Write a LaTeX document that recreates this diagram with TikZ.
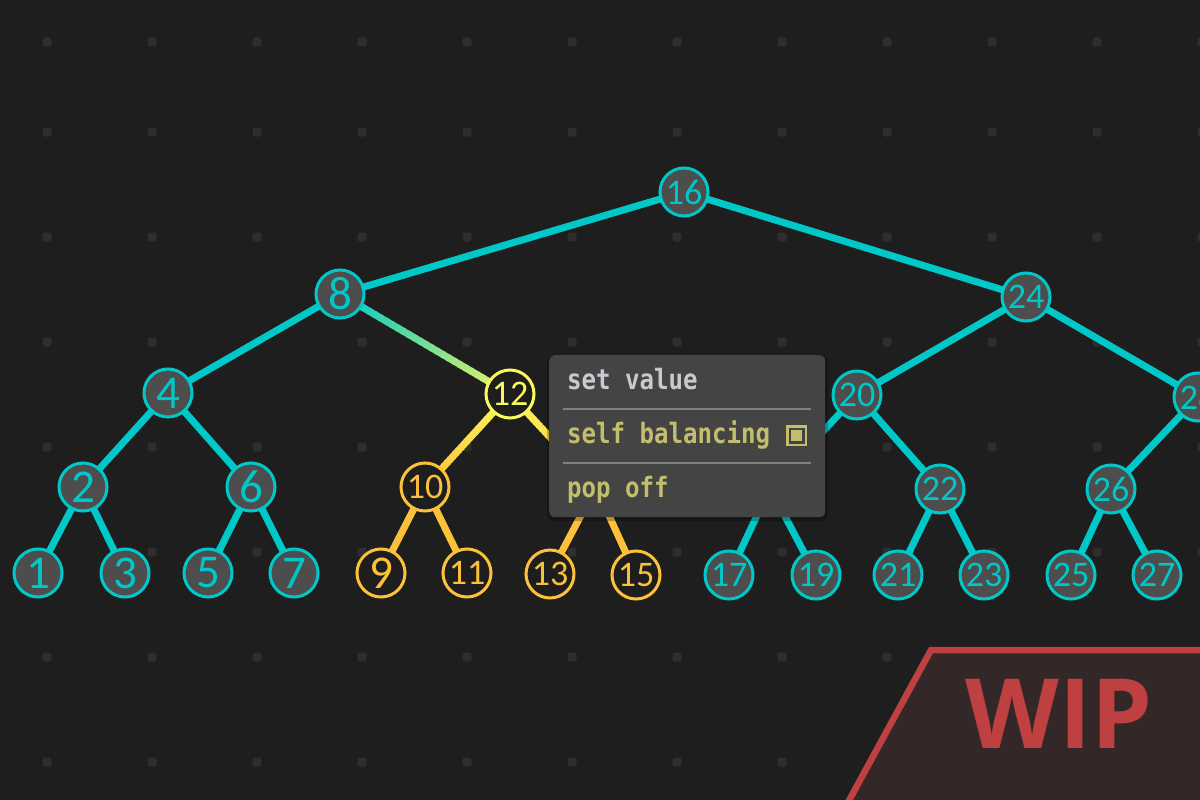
\documentclass[tikz,border=0pt]{standalone}
\usepackage{fontspec}
\usetikzlibrary{calc}
\newfontfamily\carl{Carlito}
\newfontfamily\osans{Open Sans}
\newfontfamily\mono[FakeStretch=0.86]{DejaVu Sans Mono}
\definecolor{bgc}{HTML}{1E1E1E}
\definecolor{dotc}{HTML}{2E2E2E}
\definecolor{cyn}{RGB}{0,200,200}
\definecolor{nfill}{HTML}{4D4D4D}
\definecolor{ylw}{RGB}{250,250,90}
\definecolor{ylg}{RGB}{232,245,100}
\definecolor{gld}{RGB}{252,193,58}
\definecolor{menuc}{HTML}{444444}
\definecolor{sepc}{HTML}{808080}
\definecolor{lgray}{RGB}{200,202,208}
\definecolor{khk}{RGB}{195,190,110}
\definecolor{wipred}{RGB}{191,64,64}
\definecolor{wipfill}{RGB}{52,39,39}
\pgfdeclarelayer{bg}
\pgfdeclarelayer{edges}
\pgfsetlayers{bg,edges,main}
\newcommand\gedge[4]{%
  \foreach \i in {0,...,29}{%
    \pgfmathsetmacro\pp{100*\i/29}%
    \pgfmathsetmacro\ta{\i/30}%
    \pgfmathsetmacro\tb{min(1,(\i+1.4)/30)}%
    \draw[edge, draw=#4!\pp!#3] ($(#1)!\ta!(#2)$) -- ($(#1)!\tb!(#2)$);
  }}
\begin{document}
\begin{tikzpicture}[x=1pt,y=-1pt,
  edge/.style={line width=7pt, draw=cyn},
  gedgest/.style={line width=7pt, draw=gld},
  tn/.style={circle, draw=cyn, line width=3pt, fill=nfill, text=cyn,
    minimum size=48pt, inner sep=0pt, font=\carl\fontsize{36}{36}\selectfont},
  big/.style={font=\carl\fontsize{47}{47}\selectfont},
  yn/.style={draw=ylw, fill=bgc, text=ylw},
  gn/.style={draw=gld, fill=bgc, text=gld},
  dot/.style={fill=dotc, rounded corners=2.5pt},
  menutext/.style={anchor=base west, inner sep=0pt, font=\mono\bfseries\fontsize{28}{28}\selectfont},
  sep/.style={draw=sepc, line width=2pt}
]
\useasboundingbox (0,0) rectangle (1200,800);
\begin{pgfonlayer}{bg}
  \fill[bgc] (0,0) rectangle (1200,800);
  \foreach \yy in {42,132,237,342,447,552,657,762}{
    \foreach \k in {0,...,11}{
      \fill[dot] ({47+105*\k-4.5},\yy-4.5) rectangle ++(9,9);
    }}
\end{pgfonlayer}

% nodes
\node[tn] (n16) at (684,192) {16};
\node[tn,big] (n8) at (340,294) {8};
\node[tn] (n24) at (1026,297) {24};
\node[tn,big] (n4) at (168,393) {4};
\node[tn,yn] (n12) at (510,394) {12};
\node[tn] (n20) at (857,395) {20};
\node[tn] (n28) at (1198,397) {28};
\node[tn,big] (n2) at (83,487) {2};
\node[tn,big] (n6) at (251,487) {6};
\node[tn,gn] (n10) at (425,487) {10};
\coordinate (n14) at (596,487);
\coordinate (n18) at (770,488);
\node[tn] (n22) at (940,489) {22};
\node[tn] (n26) at (1111,489) {26};
\node[tn,big] (n1) at (38,573) {1};
\node[tn,big] (n3) at (125,573) {3};
\node[tn,big] (n5) at (208,573) {5};
\node[tn,big] (n7) at (294,573) {7};
\node[tn,big,gn] (n9) at (381,573) {9};
\node[tn,gn] (n11) at (467,573) {11};
\node[tn,gn] (n13) at (550,574) {13};
\node[tn,gn] (n15) at (636,575) {15};
\node[tn] (n17) at (729,575) {17};
\node[tn] (n19) at (816,575) {19};
\node[tn] (n21) at (898,575) {21};
\node[tn] (n23) at (984,575) {23};
\node[tn] (n25) at (1071,575) {25};
\node[tn] (n27) at (1157,575) {27};

\begin{pgfonlayer}{edges}
  \foreach \a/\b in {n16/n8,n16/n24,n8/n4,n4/n2,n4/n6,n2/n1,n2/n3,n6/n5,n6/n7,
      n24/n20,n24/n28,n20/n18,n20/n22,n18/n17,n18/n19,n22/n21,n22/n23,
      n28/n26,n26/n25,n26/n27}
    \draw[edge] (\a.center) -- (\b.center);
  \foreach \a/\b in {n10/n9,n10/n11,n14/n13,n14/n15}
    \draw[gedgest] (\a.center) -- (\b.center);
  \gedge{n8}{n12}{cyn}{ylg}
  \gedge{n12}{n10}{ylw}{gld}
  \gedge{n12}{n14}{ylw}{gld}
\end{pgfonlayer}

% context menu
\fill[black, opacity=0.25, rounded corners=7pt] (547,356) rectangle (828,521);
\node[fill=menuc, rounded corners=6pt, minimum width=276pt, minimum height=162pt,
  anchor=north west, inner sep=0pt] (menu) at (549,355) {};
\node[menutext, text=lgray] (m1) at (567,389) {set value};
\draw[sep] (563,409) -- (811,409);
\node[menutext, text=khk] (m2) at (567,443) {self balancing};
\draw[sep] (563,463) -- (811,463);
\node[menutext, text=khk] (m3) at (567,497) {pop off};
\node[draw=khk, line width=2.5pt, minimum size=18.5pt, inner sep=0pt] (cb) at (796.5,435.5) {};
\node[fill=khk, minimum size=11.5pt, inner sep=0pt] (cbin) at (cb) {};

% WIP badge
\draw[draw=wipred, fill=wipfill, line width=6.5pt, line join=miter]
  (846,806) -- (931,650) -- (1206,650) -- (1206,806) -- cycle;
\node[text=wipred, font=\osans\bfseries\fontsize{97}{97}\selectfont, inner sep=0pt] (wip) at (1059,714) {WIP};
\end{tikzpicture}
\end{document}
